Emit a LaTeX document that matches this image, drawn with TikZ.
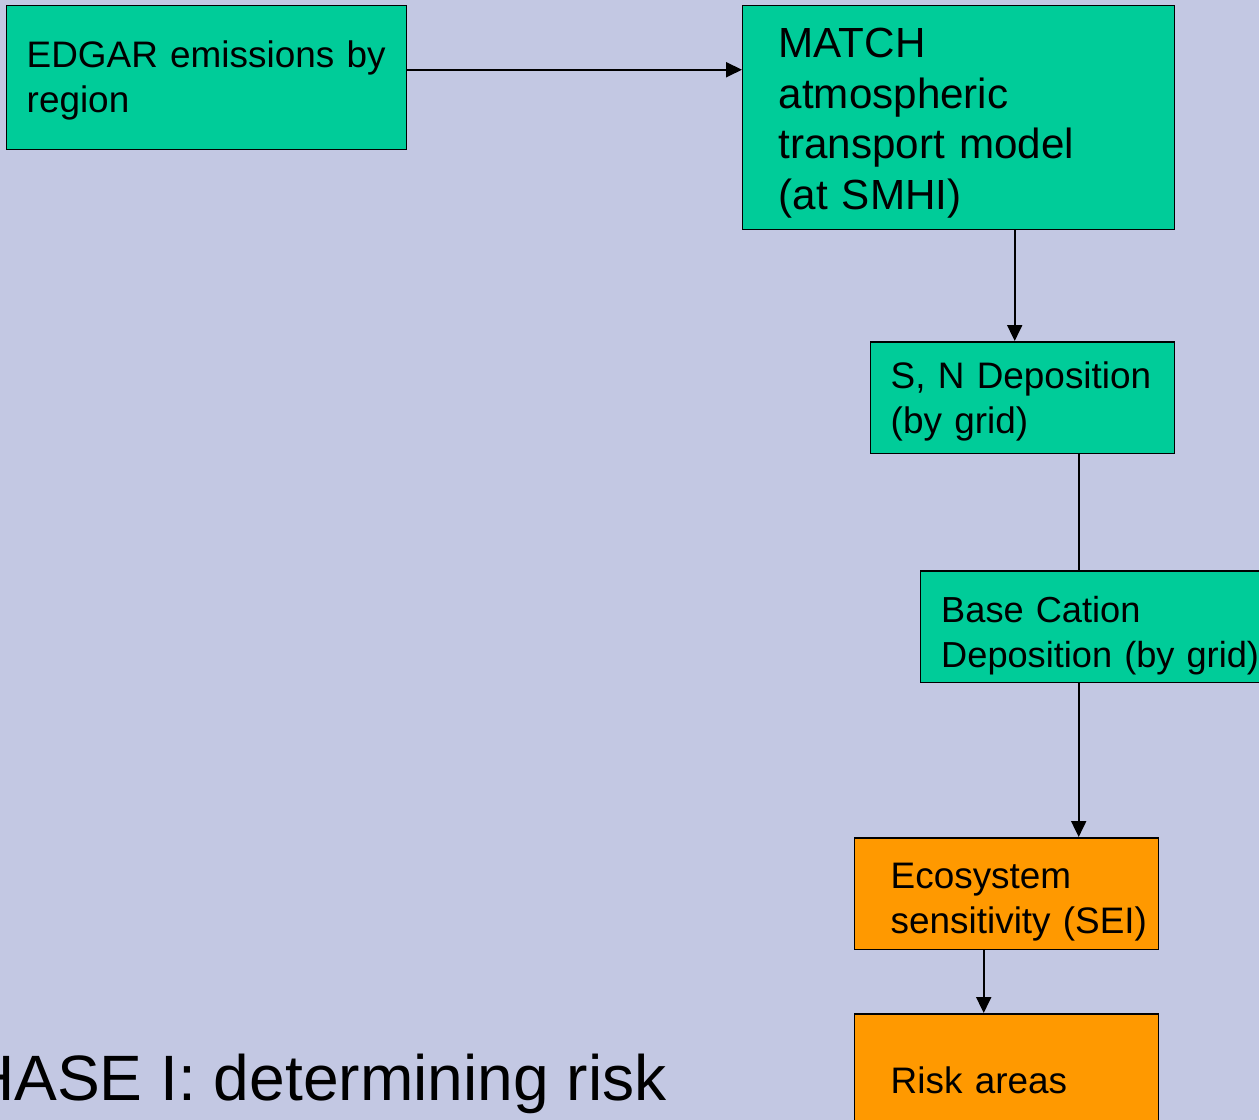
\documentclass[tikz,border=0pt]{standalone}
\usepackage{fontspec}
\setmainfont{Liberation Sans}
\usetikzlibrary{arrows.meta}
\definecolor{slidebg}{RGB}{195,200,227}
\definecolor{boxgreen}{RGB}{0,204,153}
\definecolor{boxorange}{RGB}{255,153,0}

\begin{document}
\begin{tikzpicture}[x=0.02cm,y=-0.02cm,
    box/.style={draw=black,line width=0.85pt,anchor=north west,inner xsep=0pt,
      inner ysep=0pt,align=left,font=\fontsize{21}{25.5}\selectfont},
    lpad/.style={execute at begin node={\leftskip=#1}},
    arr/.style={line width=1.1pt,-{Triangle[length=0.32cm,width=0.3cm]}}]
    \useasboundingbox (0,0) rectangle (1259,1120);
    \clip (0,0) rectangle (1259,1120);
    \fill[slidebg] (0,0) rectangle (1259,1120);

    \node[box,fill=boxgreen,text width=8cm,minimum height=2.88cm,lpad=0.4cm,
      text height=18.7pt] (edgar) at (6,5) {EDGAR emissions by\\region};
    \node[box,fill=boxgreen,text width=8.64cm,minimum height=4.48cm,lpad=0.72cm,
      font=\fontsize{24}{29}\selectfont,text height=22.9pt] (match) at (742,5) {MATCH\\atmospheric\\transport model\\(at SMHI)};
    \node[box,fill=boxgreen,text width=6.08cm,minimum height=2.24cm,lpad=0.4cm,
      text height=19.8pt] (sn) at (870,341) {S, N Deposition\\(by grid)};
    \node[box,fill=boxgreen,text width=7.6cm,minimum height=2.24cm,lpad=0.41cm,
      font=\fontsize{20.6}{25.5}\selectfont,text height=25.2pt] (base) at (920,570) {Base Cation\\Deposition (by grid)};
    \node[box,fill=boxorange,text width=6.08cm,minimum height=2.24cm,lpad=0.72cm,
      text height=24.1pt] (eco) at (854,837) {Ecosystem\\sensitivity (SEI)};
    \node[box,fill=boxorange,text width=6.08cm,minimum height=2.68cm,lpad=0.72cm] (risk) at (854,1013) {Risk areas};

    \node[anchor=base east,inner sep=0pt,font=\fontsize{36.5}{44}\selectfont] (phase) at (667,1100) {PHASE I: determining risk};

    \draw[arr] ([yshift=0.16cm]edgar.east) -- ([yshift=0.16cm]edgar.east -| match.west);
    \draw[arr] ([xshift=-0.16cm]sn.north |- match.south) -- ([xshift=-0.16cm]sn.north);
    \draw[line width=1.1pt] ([xshift=1.12cm]sn.south) -- ([xshift=1.12cm]sn.south |- base.north);
    \draw[arr] ([xshift=1.44cm]eco.north |- base.south) -- ([xshift=1.44cm]eco.north);
    \draw[arr] ([xshift=-0.46cm]eco.south) -- ([xshift=-0.46cm]risk.north);
  \end{tikzpicture}
\end{document}
